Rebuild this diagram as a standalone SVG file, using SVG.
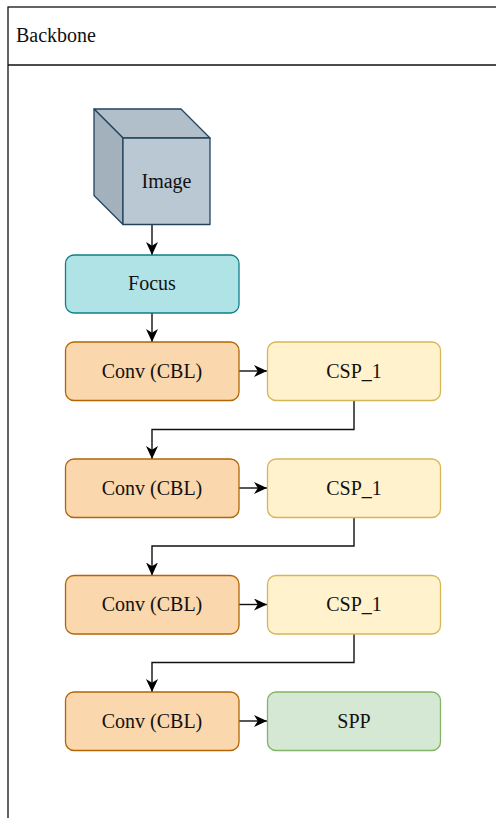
<svg xmlns="http://www.w3.org/2000/svg" width="496" height="818" viewBox="0 0 496 818">
  <defs>
    <marker id="arrow" markerUnits="userSpaceOnUse" viewBox="0 0 13 12" markerWidth="13" markerHeight="12" refX="13" refY="6" orient="auto">
      <path d="M0,0 L13,6 L0,12 L3.8,6 Z" fill="#000"/>
    </marker>
  </defs>
  <style>
    .lbl { font-family: "Liberation Serif", "Times New Roman", serif; font-size: 20px; fill: #111; text-anchor: middle; }
    .title { font-family: "Liberation Serif", "Times New Roman", serif; font-size: 20px; fill: #111; }
    .focus { fill: #b0e3e6; stroke: #0e8088; stroke-width: 1.3; }
    .conv { fill: #fad7ac; stroke: #b46504; stroke-width: 1.3; }
    .csp { fill: #fff2cc; stroke: #d6b656; stroke-width: 1.3; }
    .spp { fill: #d5e8d4; stroke: #82b366; stroke-width: 1.3; }
    .edge { fill: none; stroke: #111; stroke-width: 1.4; marker-end: url(#arrow); }
    .cube { stroke: #23445d; stroke-width: 1.3; stroke-linejoin: round; }
  </style>

  <!-- swimlane container -->
  <g id="backbone">
    <rect x="8" y="7" width="500" height="830" fill="#fff" stroke="#111" stroke-width="1.3"/>
    <line x1="8" y1="65" x2="508" y2="65" stroke="#111" stroke-width="1.3"/>
    <text class="title" x="16" y="42">Backbone</text>
  </g>

  <!-- connectors -->
  <g id="edges">
    <path class="edge" d="M152,225 L152,255"/>
    <path class="edge" d="M152,313 L152,342"/>
    <path class="edge" d="M239,371 L267,371"/>
    <path class="edge" d="M354,401 L354,429.5 L152,429.5 L152,459"/>
    <path class="edge" d="M239,488 L267,488"/>
    <path class="edge" d="M354,517.5 L354,546 L152,546 L152,575.5"/>
    <path class="edge" d="M239,604.5 L267,604.5"/>
    <path class="edge" d="M354,634 L354,662.5 L152,662.5 L152,692"/>
    <path class="edge" d="M239,721 L267,721"/>
  </g>

  <g id="image">
    <polygon class="cube" points="94,109 181,109 210,138 123,138" fill="#b0bfca"/>
    <polygon class="cube" points="94,109 123,138 123,224.5 94,195.5" fill="#a3b1bc"/>
    <rect class="cube" x="123" y="138" width="87" height="86.5" fill="#bac8d3"/>
    <text class="lbl" x="166.5" y="188">Image</text>
  </g>

  <g id="focus">
    <rect class="focus" x="65.5" y="255" width="173.5" height="58" rx="8.5"/>
    <text class="lbl" x="152" y="290">Focus</text>
  </g>

  <g id="conv1">
    <rect class="conv" x="65.5" y="342" width="173.5" height="58.5" rx="8.5"/>
    <text class="lbl" x="152" y="377.5">Conv (CBL)</text>
  </g>
  <g id="csp1">
    <rect class="csp" x="267.5" y="342" width="173" height="58.5" rx="8.5"/>
    <text class="lbl" x="354" y="377.5">CSP_1</text>
  </g>

  <g id="conv2">
    <rect class="conv" x="65.5" y="459" width="173.5" height="58.5" rx="8.5"/>
    <text class="lbl" x="152" y="494.5">Conv (CBL)</text>
  </g>
  <g id="csp2">
    <rect class="csp" x="267.5" y="459" width="173" height="58.5" rx="8.5"/>
    <text class="lbl" x="354" y="494.5">CSP_1</text>
  </g>

  <g id="conv3">
    <rect class="conv" x="65.5" y="575.5" width="173.5" height="58.5" rx="8.5"/>
    <text class="lbl" x="152" y="611">Conv (CBL)</text>
  </g>
  <g id="csp3">
    <rect class="csp" x="267.5" y="575.5" width="173" height="58.5" rx="8.5"/>
    <text class="lbl" x="354" y="611">CSP_1</text>
  </g>

  <g id="conv4">
    <rect class="conv" x="65.5" y="692" width="173.5" height="58.5" rx="8.5"/>
    <text class="lbl" x="152" y="727.5">Conv (CBL)</text>
  </g>
  <g id="spp">
    <rect class="spp" x="267.5" y="692" width="173" height="58.5" rx="8.5"/>
    <text class="lbl" x="354" y="727.5">SPP</text>
  </g>
</svg>
